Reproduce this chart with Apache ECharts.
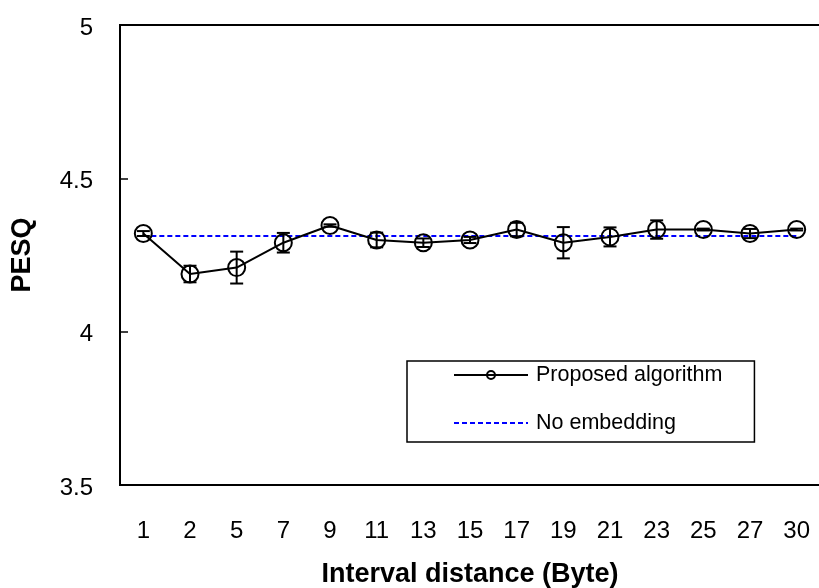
<!DOCTYPE html>
<html>
<head>
<meta charset="utf-8">
<script src="https://cdn.jsdelivr.net/npm/echarts@6/dist/echarts.min.js"></script>
<style>
html,body{margin:0;padding:0;background:#fff;}
#chart{width:819px;height:588px;}
</style>
</head>
<body>
<div id="chart"></div>
<script>
const categories = ['1','2','5','7','9','11','13','15','17','19','21','23','25','27','30'];
const proposed = [4.320, 4.188, 4.209, 4.290, 4.346, 4.299, 4.290, 4.299, 4.333, 4.290, 4.309, 4.333, 4.333, 4.320, 4.333];
const proposedErr = [0.008, 0.027, 0.052, 0.032, 0.004, 0.024, 0.014, 0.010, 0.022, 0.051, 0.031, 0.030, 0.003, 0.015, 0.003];
const noEmbedding = [4.312, 4.312, 4.312, 4.312, 4.312, 4.312, 4.312, 4.312, 4.312, 4.312, 4.312, 4.312, 4.312, 4.312, 4.312];
const yTicks = [3.5, 4, 4.5, 5];

const FONT = '"Liberation Sans", Arial, sans-serif';
const errData = proposed.map((v, i) => [i, v - proposedErr[i], v + proposedErr[i]]);

const chart = echarts.init(document.getElementById('chart'), null, {renderer: 'canvas'});
chart.setOption({
  animation: false,
  backgroundColor: '#fff',
  textStyle: {fontFamily: FONT},
  grid: {left: 120, top: 25, right: -1, bottom: 103, show: true, borderColor: '#000', borderWidth: 2, backgroundColor: '#fff', containLabel: false, outerBoundsMode: 'none'},
  legend: {
    orient: 'vertical',
    left: 407, top: 361,
    padding: [3, 32, 8, 46],
    itemGap: 26,
    itemWidth: 74, itemHeight: 10,
    borderColor: '#000', borderWidth: 1.5,
    backgroundColor: '#fff',
    textStyle: {fontFamily: FONT, fontSize: 21.5, color: '#000', padding: [0,0,0,3], lineHeight: 20},
    data: ['Proposed algorithm', 'No embedding']
  },
  xAxis: {
    type: 'category',
    data: categories,
    boundaryGap: true,
    axisLine: {lineStyle: {color: '#000', width: 2}},
    axisTick: {inside: true, length: 7, interval: 0, lineStyle: {color: '#000', width: 1.5}},
    axisLabel: {margin: 34, fontSize: 24, color: '#000', fontFamily: FONT, interval: 0},
    splitLine: {show: false},
    name: 'Interval distance (Byte)',
    nameLocation: 'middle',
    nameGap: 76,
    nameTextStyle: {fontSize: 27, fontWeight: 'bold', color: '#000', fontFamily: FONT}
  },
  yAxis: {
    type: 'value',
    min: yTicks[0], max: yTicks[yTicks.length - 1], interval: 0.5,
    axisLine: {show: true, lineStyle: {color: '#000', width: 2}},
    axisTick: {show: true, inside: true, length: 8, lineStyle: {color: '#000', width: 1.5}},
    axisLabel: {margin: 27, fontSize: 24, color: '#000', fontFamily: FONT, formatter: v => '{a|' + v + '}',
      rich: {a: {fontSize: 24, fontFamily: FONT, color: '#000', padding: [6, 0, 0, 0]}}},
    splitLine: {show: false},
    name: 'PESQ',
    nameLocation: 'middle',
    nameGap: 84,
    nameTextStyle: {fontSize: 27, fontWeight: 'bold', color: '#000', fontFamily: FONT}
  },
  series: [
    {
      name: 'No embedding',
      type: 'line',
      data: noEmbedding,
      symbol: 'none',
      lineStyle: {color: '#0000ff', width: 2, type: [5, 3]},
      itemStyle: {color: 'rgba(0,0,0,0)', borderColor: 'rgba(0,0,0,0)', borderWidth: 0},
      z: 2
    },
    {
      name: 'Proposed algorithm',
      type: 'line',
      data: proposed,
      symbol: 'circle',
      symbolSize: 17,
      lineStyle: {color: '#000', width: 2},
      itemStyle: {color: 'rgba(255,255,255,0)', borderColor: '#000', borderWidth: 2},
      z: 3
    },
    {
      name: 'err',
      type: 'custom',
      data: errData,
      encode: {x: 0, y: [1, 2]},
      z: 4,
      renderItem: function (params, api) {
        const i = api.value(0);
        const lo = api.coord([i, api.value(1)]);
        const hi = api.coord([i, api.value(2)]);
        const w = 6.5;
        const st = {stroke: '#000', lineWidth: 2};
        return {
          type: 'group',
          children: [
            {type: 'line', shape: {x1: hi[0], y1: hi[1], x2: lo[0], y2: lo[1]}, style: st},
            {type: 'line', shape: {x1: hi[0] - w, y1: hi[1], x2: hi[0] + w, y2: hi[1]}, style: st},
            {type: 'line', shape: {x1: lo[0] - w, y1: lo[1], x2: lo[0] + w, y2: lo[1]}, style: st}
          ]
        };
      }
    }
  ]
});
</script>
</body>
</html>
